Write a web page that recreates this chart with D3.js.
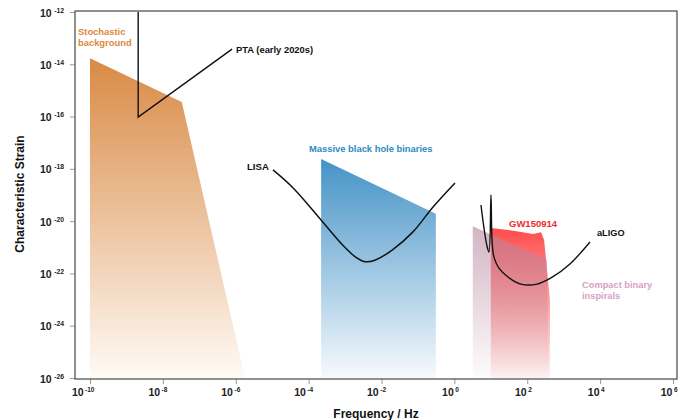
<!DOCTYPE html>
<html>
<head>
<meta charset="utf-8">
<script src="https://cdn.jsdelivr.net/npm/d3@7"></script>
<style>
  body { margin: 0; background: #fff; }
  svg text { font-family: "Liberation Sans", Arial, Helvetica, sans-serif; }
</style>
</head>
<body>
<script>
// Axis ticks (powers of ten)
const xTickExp = [-10, -8, -6, -4, -2, 0, 2, 4, 6];
const yTickExp = [-12, -14, -16, -18, -20, -22, -24, -26];

// Source regions: [frequency Hz, characteristic strain] along the upper edge
const stochasticTop = [[1e-10, 1.7e-14], [3.3e-8, 3.6e-16], [1.8e-6, 1e-26]];
const mbhbTop = [[2.2e-4, 2.4e-18], [0.31, 1.9e-20]];
const compactTop = [[3.2, 6.4e-21], [345, 3.3e-22], [395, 1e-26]];
const gw150914Top = [[10, 5.5e-21], [46, 4.2e-21], [145, 3.2e-21], [240, 3.8e-21],
                     [290, 1.9e-21], [350, 1.35e-22], [420, 9.5e-24], [420, 1e-26]];

// Detector sensitivity curves
const ptaCurve = [[2.1e-9, 1e-12], [2.1e-9, 9.5e-17], [7.9e-7, 3.8e-14]];
const lisaCurve = [[1.05e-5, 9.1e-19], [3.7e-5, 1.9e-19], [2.0e-4, 1.3e-20], [8.7e-4, 1.2e-21],
                   [2.1e-3, 3.9e-22], [3.5e-3, 2.8e-22], [6.6e-3, 3.2e-22], [0.020, 8e-22],
                   [0.072, 3.8e-21], [0.26, 3.5e-20], [1.04, 2.9e-19]];
const aligoCurve = [[5.37, 4.14e-20], [6.49, 5.46e-21], [7.85, 1.12e-21], [8.9, 6.6e-22],
                    [10.1, 1.0e-19], [10.8, 1.9e-21], [12.2, 4.2e-22], [16.7, 1.6e-22],
                    [29.6, 7.3e-23], [67, 3.9e-23], [185, 3.9e-23], [448, 6.7e-23],
                    [1486, 2.3e-22], [5260, 1.6e-21]];

const floorStrain = 1e-26;

const W = 678, H = 420;
const svg = d3.select("body").append("svg").attr("width", W).attr("height", H);

const x = d3.scaleLog().domain([1e-10, 1e6]).range([90, 673]);
const y = d3.scaleLog().domain([1e-26, 1e-12]).range([378, 12]);

// Vertical fade gradients for the filled regions
const defs = svg.append("defs");
function grad(id, stops) {
  const g = defs.append("linearGradient").attr("id", id)
    .attr("x1", 0).attr("y1", 0).attr("x2", 0).attr("y2", 1);
  stops.forEach(s => g.append("stop").attr("offset", s[0])
    .attr("stop-color", s[1]).attr("stop-opacity", s[2]));
}
grad("gOrange", [[0, "#d98a45", 1], [1, "#fffaf5", 1]]);
grad("gBlue", [[0, "#4593c7", 1], [1, "#f6fafd", 1]]);
grad("gRed", [[0, "#ff4c4c", 1], [1, "#ff4c4c", 0.05]]);
grad("gMauve", [[0, "#b8879f", 0.62], [1, "#b8879f", 0.03]]);

const area = d3.area()
  .x(d => x(d[0]))
  .y0(y(floorStrain))
  .y1(d => y(d[1]));

svg.append("path").datum(stochasticTop).attr("d", area).attr("fill", "url(#gOrange)");
svg.append("path").datum(mbhbTop).attr("d", area).attr("fill", "url(#gBlue)");
svg.append("path").datum(gw150914Top).attr("d", area).attr("fill", "url(#gRed)");
svg.append("path").datum(compactTop).attr("d", area).attr("fill", "url(#gMauve)");

const lineLin = d3.line().x(d => x(d[0])).y(d => y(d[1]));
const lineSmooth = d3.line().x(d => x(d[0])).y(d => y(d[1])).curve(d3.curveCatmullRom.alpha(0.5));

svg.append("path").datum(ptaCurve).attr("d", lineLin)
  .attr("fill", "none").attr("stroke", "#111").attr("stroke-width", 1.4);
svg.append("path").datum(lisaCurve).attr("d", lineSmooth)
  .attr("fill", "none").attr("stroke", "#111").attr("stroke-width", 1.5);
svg.append("path").datum(aligoCurve).attr("d", lineSmooth)
  .attr("fill", "none").attr("stroke", "#111").attr("stroke-width", 1.4)
  .attr("stroke-linejoin", "round");

// Axes: tick marks from d3 axes, labels as 10 with superscript exponent
const xAxis = d3.axisBottom(x).tickValues(xTickExp.map(e => Math.pow(10, e)))
  .tickSize(5).tickFormat("");
const gx = svg.append("g").attr("transform", "translate(0,379)").call(xAxis);
gx.select(".domain").remove();
gx.selectAll(".tick line").attr("stroke", "#999");
gx.selectAll(".tick").each(function(d, i) {
  const t = d3.select(this).append("text")
    .attr("x", 4).attr("y", 17).attr("text-anchor", "end")
    .attr("fill", "#222").attr("font-weight", "bold");
  t.append("tspan").attr("font-size", "10.5px").text("10");
  t.append("tspan").attr("font-size", "6.5px").attr("dx", "1.5").attr("dy", "-4").text(String(xTickExp[i]));
});

const yAxis = d3.axisLeft(y).tickValues(yTickExp.map(e => Math.pow(10, e)))
  .tickSize(5).tickFormat("");
const gy = svg.append("g").attr("transform", "translate(75,0)").call(yAxis);
gy.select(".domain").remove();
gy.selectAll(".tick line").attr("stroke", "#999");
gy.selectAll(".tick").each(function(d, i) {
  const t = d3.select(this).append("text")
    .attr("x", -11).attr("y", 4).attr("text-anchor", "end")
    .attr("fill", "#222").attr("font-weight", "bold");
  t.append("tspan").attr("font-size", "10.5px").text("10");
  t.append("tspan").attr("font-size", "6.8px").attr("dx", "2.5").attr("dy", "-4").text(String(yTickExp[i]));
});

// Plot frame
svg.append("rect").attr("x", 75).attr("y", 11).attr("width", 602).attr("height", 368)
  .attr("fill", "none").attr("stroke", "#555").attr("stroke-width", 1.3);

// Axis titles
svg.append("text").attr("x", 376).attr("y", 418).attr("text-anchor", "middle")
  .attr("font-size", "12px").attr("font-weight", "bold").attr("fill", "#111")
  .text("Frequency / Hz");
svg.append("text").attr("transform", "translate(24,194) rotate(-90)")
  .attr("text-anchor", "middle").attr("font-size", "12px").attr("font-weight", "bold")
  .attr("fill", "#111").text("Characteristic Strain");

// Region and curve labels
function label(txt, px, py, color, size, weight) {
  svg.append("text").attr("x", px).attr("y", py).attr("fill", color)
    .attr("font-size", size + "px").attr("font-weight", weight || "bold").text(txt);
}
label("Stochastic", 78, 35, "#d98a3d", 9.4);
label("background", 78, 45.5, "#d98a3d", 9.4);
label("PTA (early 2020s)", 236, 52.5, "#111", 9.4);
label("LISA", 247, 169.5, "#111", 9.6);
label("Massive black hole binaries", 309, 152, "#2b8bc4", 9.4);
label("GW150914", 509, 226.5, "#f02a2a", 9.5);
label("aLIGO", 597, 235.5, "#111", 9.2);
label("Compact binary", 582, 287.5, "#d6a2c4", 9.3);
label("inspirals", 582, 298.5, "#d6a2c4", 9.3);
</script>
</body>
</html>
